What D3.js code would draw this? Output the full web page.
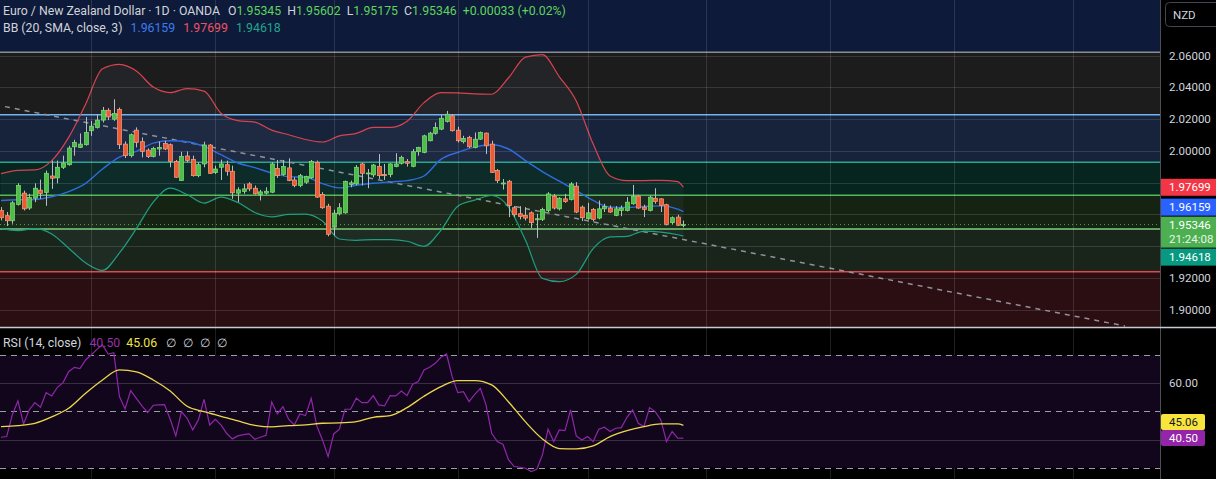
<!DOCTYPE html>
<html>
<head>
<meta charset="utf-8">
<script src="https://cdn.jsdelivr.net/npm/d3@7"></script>
<style>
  html, body { margin: 0; padding: 0; background: #000; overflow: hidden; }
  svg text { font-family: Roboto, "Noto Sans", sans-serif; }
</style>
</head>
<body>
<div id="chart"></div>
<script>
// daily EUR/NZD candles, oldest first
var opens = [1.9624,1.9591,1.9559,1.9662,1.9733,1.9639,1.9701,1.9752,1.9737,1.9841,
  1.9829,1.9896,1.9912,2.0025,2.0021,2.0038,2.0126,2.0147,2.0193,2.0255,
  2.0199,2.0261,2.0042,1.9969,2.0130,2.0057,2.0004,1.9963,2.0011,2.0046,
  2.0038,1.9933,1.9812,1.9967,1.9946,1.9843,1.9917,2.0036,1.9862,1.9896,
  1.9912,1.9871,1.9733,1.9743,1.9791,1.9764,1.9724,1.9733,1.9739,1.9889,
  1.9850,1.9892,1.9816,1.9781,1.9802,1.9829,1.9927,1.9724,1.9651,1.9519,
  1.9603,1.9609,1.9787,1.9791,1.9917,1.9854,1.9848,1.9900,1.9850,1.9850,
  1.9900,1.9921,1.9931,1.9902,1.9994,1.9990,2.0063,2.0109,2.0136,2.0184,
  2.0220,2.0130,2.0057,2.0084,2.0021,2.0073,2.0111,2.0042,1.9875,1.9791,
  1.9808,1.9641,1.9603,1.9593,1.9609,1.9565,1.9568,1.9624,1.9714,1.9634,
  1.9697,1.9693,1.9777,1.9645,1.9572,1.9630,1.9576,1.9634,1.9639,1.9593,
  1.9624,1.9624,1.9666,1.9714,1.9645,1.9624,1.9701,1.9697,1.9660,1.9547,
  1.9582,1.95345];
var highs = [1.9645,1.9614,1.9683,1.9795,1.9749,1.9729,1.9795,1.9818,1.9875,1.9938,
  1.9938,1.9969,2.0032,2.0069,2.0109,2.0213,2.0188,2.0230,2.0276,2.0268,
  2.0324,2.0272,2.0059,2.0109,2.0147,2.0084,2.0015,2.0025,2.0059,2.0063,
  2.0046,1.9942,1.9994,1.9996,1.9969,1.9927,2.0057,2.0042,1.9906,1.9944,
  1.9938,1.9906,1.9770,1.9791,1.9802,1.9781,1.9754,1.9770,1.9927,1.9942,
  1.9942,1.9952,1.9833,1.9854,1.9843,1.9942,1.9938,1.9739,1.9666,1.9628,
  1.9670,1.9812,1.9812,1.9910,1.9923,1.9885,1.9917,1.9979,1.9917,1.9921,
  1.9984,1.9969,1.9948,2.0011,2.0025,2.0101,2.0119,2.0178,2.0226,2.0251,
  2.0230,2.0151,2.0094,2.0094,2.0115,2.0121,2.0115,2.0063,1.9885,1.9822,
  1.9816,1.9651,1.9651,1.9645,1.9618,1.9603,1.9641,1.9739,1.9728,1.9708,
  1.9728,1.9802,1.9802,1.9655,1.9672,1.9639,1.9687,1.9666,1.9655,1.9651,
  1.9655,1.9708,1.9785,1.9722,1.9660,1.9718,1.9764,1.9701,1.9666,1.9586,
  1.9597,1.95602];
var lows = [1.9561,1.9526,1.9540,1.9655,1.9624,1.9628,1.9676,1.9697,1.9653,1.9760,
  1.9795,1.9885,1.9906,1.9969,2.0017,2.0032,2.0094,2.0140,2.0178,2.0193,
  2.0188,2.0011,1.9954,1.9958,2.0021,1.9958,1.9954,1.9958,1.9969,2.0004,
  1.9896,1.9829,1.9812,1.9927,1.9837,1.9833,1.9896,1.9854,1.9854,1.9816,
  1.9843,1.9697,1.9676,1.9729,1.9745,1.9724,1.9687,1.9724,1.9733,1.9829,
  1.9843,1.9808,1.9770,1.9770,1.9791,1.9823,1.9703,1.9634,1.9461,1.9467,
  1.9593,1.9603,1.9770,1.9783,1.9781,1.9764,1.9833,1.9823,1.9816,1.9833,
  1.9896,1.9913,1.9900,1.9896,1.9969,1.9984,2.0059,2.0101,2.0130,2.0178,
  2.0121,2.0052,2.0046,2.0017,2.0015,2.0068,1.9979,1.9860,1.9797,1.9756,
  1.9582,1.9582,1.9568,1.9561,1.9513,1.9451,1.9557,1.9614,1.9630,1.9624,
  1.9672,1.9687,1.9607,1.9557,1.9565,1.9555,1.9568,1.9614,1.9609,1.9588,
  1.9588,1.9618,1.9660,1.9634,1.9582,1.9618,1.9666,1.9614,1.9530,1.9534,
  1.9526,1.95175];
var closes = [1.9578,1.9559,1.9672,1.9781,1.9634,1.9706,1.9764,1.9731,1.9858,1.9827,
  1.9896,1.9923,2.0017,2.0052,2.0042,2.0115,2.0155,2.0193,2.0255,2.0213,
  2.0234,2.0038,1.9969,2.0101,2.0052,1.9996,1.9963,2.0015,2.0021,2.0011,
  1.9933,1.9833,1.9965,1.9938,1.9843,1.9912,2.0036,1.9858,1.9885,1.9917,
  1.9871,1.9735,1.9754,1.9760,1.9760,1.9729,1.9741,1.9745,1.9917,1.9843,
  1.9900,1.9812,1.9781,1.9843,1.9837,1.9933,1.9708,1.9641,1.9474,1.9607,
  1.9641,1.9806,1.9798,1.9896,1.9858,1.9860,1.9910,1.9843,1.9843,1.9917,
  1.9917,1.9958,1.9921,1.9994,2.0021,2.0094,2.0111,2.0146,2.0205,2.0230,
  2.0126,2.0063,2.0078,2.0025,2.0073,2.0115,2.0031,1.9864,1.9812,1.9797,
  1.9655,1.9597,1.9586,1.9576,1.9547,1.9572,1.9630,1.9728,1.9639,1.9701,
  1.9680,1.9791,1.9614,1.9578,1.9609,1.9568,1.9634,1.9649,1.9614,1.9634,
  1.9639,1.9676,1.9714,1.9639,1.9630,1.9708,1.9680,1.9655,1.9534,1.9578,
  1.9531,1.95346];

// Bollinger bands (20, SMA, 3) read every third bar
var bandBars = [0,3,6,9,12,15,18,21,24,27,30,33,36,39,42,45,48,51,54,57,60,
  63,66,69,72,75,78,81,84,87,90,93,96,99,102,105,108,111,114,117,120,121];
var bbUpper = [1.9856,1.9877,1.9879,1.9938,2.0084,2.0293,2.0516,2.0544,2.0502,2.0401,
  2.0366,2.0391,2.0376,2.0236,2.0190,2.0180,2.0130,2.0101,2.0071,2.0055,2.0094,
  2.0109,2.0147,2.0147,2.0186,2.0303,2.0366,2.0364,2.0358,2.0356,2.0460,
  2.0590,2.0606,2.0466,2.0314,2.0042,1.9841,1.9812,1.9812,1.9814,1.9806,1.97699];
var bbMiddle = [1.9687,1.9691,1.9693,1.9710,1.9743,1.9795,1.9885,1.9960,1.9996,2.0048,
  2.0063,2.0057,2.0027,1.9975,1.9923,1.9894,1.9860,1.9837,1.9833,1.9793,1.9766,
  1.9783,1.9795,1.9804,1.9812,1.9841,1.9946,1.9990,2.0023,2.0038,2.0011,
  1.9938,1.9869,1.9808,1.9749,1.9687,1.9645,1.9643,1.9649,1.9653,1.9632,1.96159];
var bbLower = [1.9509,1.9497,1.9509,1.9476,1.9386,1.9294,1.9246,1.9356,1.9509,1.9676,
  1.9764,1.9724,1.9670,1.9708,1.9674,1.9611,1.9584,1.9599,1.9601,1.9557,1.9444,
  1.9436,1.9440,1.9440,1.9430,1.9398,1.9499,1.9651,1.9689,1.9718,1.9645,
  1.9436,1.9196,1.9175,1.9221,1.9384,1.9457,1.9461,1.9494,1.9488,1.9471,1.94618];

// RSI 14 per bar and its moving average (every third bar)
var rsiValues = [40.81,41.05,48.73,53.69,45.54,50.50,53.10,51.45,56.65,55.47,
  58.54,60.19,64.09,65.63,65.16,68.23,70.00,72.01,73.55,70.36,
  70.83,55.23,50.86,57.36,54.64,51.92,49.56,52.16,52.28,52.39,
  47.19,41.28,49.91,47.55,43.41,46.96,54.28,45.18,47.19,45.18,
  42.23,40.22,41.28,41.76,41.99,40.10,40.81,41.52,53.34,49.08,
  51.68,47.19,45.18,49.08,48.49,54.64,44.83,39.86,33.95,41.99,
  43.65,50.74,50.74,54.64,53.10,53.10,55.58,52.28,51.92,55.58,
  55.47,57.24,55.58,59.60,60.55,64.69,65.63,67.05,69.18,70.36,
  62.32,56.65,57.00,53.46,56.06,58.19,52.28,42.23,39.27,38.33,
  32.77,30.41,30.17,29.82,28.63,29.46,34.55,43.65,39.27,43.41,
  43.17,50.50,41.28,39.86,41.05,39.27,43.65,44.36,42.82,44.00,
  44.24,47.90,50.50,45.77,44.59,51.33,49.91,46.96,39.27,42.82,
  40.45,40.50];
var rsiMa = [44.59,44.95,45.77,48.02,51.09,56.41,61.14,64.69,63.98,61.14,
  57.24,51.80,49.91,48.26,46.60,45.06,44.47,44.95,45.18,45.77,45.89,
  46.37,47.90,48.49,51.33,55.35,58.78,60.90,60.90,59.37,53.34,
  46.25,40.22,36.79,36.67,37.74,41.05,43.17,44.59,45.54,45.54,45.06];

var priceGrid = [2.06, 2.04, 2.02, 2.00, 1.98, 1.96, 1.94, 1.92, 1.90];
var priceLabels = [2.06, 2.04, 2.02, 2.00, 1.92, 1.90];
var rsiGridLevels = [60, 40];
var rsiBandLevels = [70, 50, 30];
var rsiTickLabels = [60];
var monthBars = [16, 38, 59, 81, 104, 125, 147, 169, 190];
var fibLevels = [2.0620, 2.0227, 1.9927, 1.9719, 1.9507, 1.9238];
var trendBars = [0.7, 199.3];
var trendPrices = [2.0278, 1.8896];
var lastPrice = 1.95346;
var countdown = "21:24:08";

var W = 1216, H = 479, axisX = 1160, paneBottom = 327;
var fibLineColors = ["#8a8d96", "#6fb3f2", "#2aa58f", "#56b65a", "#7fcf7c", "#e0484f"];
var zoneColors = ["#0d1a39", "#1c1c1d", "#17233a", "#06251f", "#152313", "#19251a", "#2b0e12"];

var svg = d3.select("#chart").append("svg").attr("width", W).attr("height", H)
  .style("display", "block").style("background", "#000");

var x = d3.scaleLinear().domain([0, 121]).range([1, 683.4]);
var y = d3.scaleLinear().domain([1.90, 2.06]).range([309.5, 55.5]);
var yr = d3.scaleLinear().domain([30, 70]).range([467.7, 355]);

svg.append("clipPath").attr("id", "pane").append("rect")
  .attr("x", 0).attr("y", 0).attr("width", axisX).attr("height", paneBottom);
var pane = svg.append("g").attr("clip-path", "url(#pane)");

// coloured zones between the levels
var edges = [null].concat(fibLevels).concat([null]);
for (var z = 0; z < edges.length - 1; z++) {
  var zoneTop = edges[z] === null ? 0 : y(edges[z]);
  var zoneBot = edges[z + 1] === null ? paneBottom : y(edges[z + 1]);
  pane.append("rect").attr("x", 0).attr("y", zoneTop).attr("width", axisX)
    .attr("height", zoneBot - zoneTop).attr("fill", zoneColors[z]);
}

// band fill
var bandPts = bandBars.map(function (b, i) { return { b: b, u: bbUpper[i], m: bbMiddle[i], l: bbLower[i] }; });
pane.append("path").datum(bandPts)
  .attr("d", d3.area().curve(d3.curveMonotoneX)
    .x(function (d) { return x(d.b); }).y0(function (d) { return y(d.l); }).y1(function (d) { return y(d.u); }))
  .attr("fill", "rgba(140,170,210,0.06)");

// grid
pane.selectAll(".hgrid").data(priceGrid).enter().append("line")
  .attr("x1", 0).attr("x2", axisX)
  .attr("y1", function (d) { return Math.round(y(d)) + 0.5; })
  .attr("y2", function (d) { return Math.round(y(d)) + 0.5; })
  .attr("stroke", "rgba(255,255,255,0.12)");
svg.selectAll(".vgrid").data(monthBars).enter().append("line")
  .attr("x1", function (d) { return Math.round(x(d)) + 0.5; })
  .attr("x2", function (d) { return Math.round(x(d)) + 0.5; })
  .attr("y1", 0).attr("y2", H)
  .attr("stroke", "rgba(255,255,255,0.12)");

// fib level lines
pane.selectAll(".fib").data(fibLevels).enter().append("line")
  .attr("x1", 0).attr("x2", axisX)
  .attr("y1", function (d) { return y(d); }).attr("y2", function (d) { return y(d); })
  .attr("stroke", function (d, i) { return fibLineColors[i]; })
  .attr("stroke-width", 1.5);

// trend line
pane.append("line")
  .attr("x1", x(trendBars[0])).attr("y1", y(trendPrices[0]))
  .attr("x2", x(trendBars[1])).attr("y2", y(trendPrices[1]))
  .attr("stroke", "#8f929b").attr("stroke-width", 1.5).attr("stroke-dasharray", "5,5");

// bands
var bandLine = function (key) {
  return d3.line().curve(d3.curveMonotoneX)
    .x(function (d) { return x(d.b); }).y(function (d) { return y(d[key]); });
};
pane.append("path").datum(bandPts).attr("d", bandLine("u")).attr("fill", "none").attr("stroke", "#d8434f").attr("stroke-width", 1.2);
pane.append("path").datum(bandPts).attr("d", bandLine("m")).attr("fill", "none").attr("stroke", "#2f6be0").attr("stroke-width", 1.4);
pane.append("path").datum(bandPts).attr("d", bandLine("l")).attr("fill", "none").attr("stroke", "#1f9e82").attr("stroke-width", 1.2);

// candles
var candles = opens.map(function (o, i) { return { i: i, o: o, h: highs[i], l: lows[i], c: closes[i] }; });
var cg = pane.selectAll(".candle").data(candles).enter().append("g");
cg.append("line")
  .attr("x1", function (d) { return Math.round(x(d.i)) + 0.5; })
  .attr("x2", function (d) { return Math.round(x(d.i)) + 0.5; })
  .attr("y1", function (d) { return y(d.h); }).attr("y2", function (d) { return y(d.l); })
  .attr("stroke", "#b9bcc4");
cg.append("rect")
  .attr("x", function (d) { return Math.round(x(d.i)) - 1.5; })
  .attr("width", 4)
  .attr("y", function (d) { return y(Math.max(d.o, d.c)); })
  .attr("height", function (d) { return Math.max(1, Math.abs(y(d.o) - y(d.c))); })
  .attr("fill", function (d) { return d.c >= d.o ? "#4cbf48" : "#f05a32"; })
  .attr("stroke", function (d) { return d.c >= d.o ? "#86dd78" : "#f7a283"; })
  .attr("stroke-width", 0.7);

// last price line
pane.append("line").attr("x1", 0).attr("x2", axisX)
  .attr("y1", y(lastPrice)).attr("y2", y(lastPrice))
  .attr("stroke", "#4caf50").attr("stroke-dasharray", "1,3");

// RSI pane
svg.append("rect").attr("x", 0).attr("width", axisX)
  .attr("y", yr(70)).attr("height", yr(30) - yr(70)).attr("fill", "#12061d");
svg.selectAll(".rgrid").data(rsiGridLevels).enter().append("line")
  .attr("x1", 0).attr("x2", axisX)
  .attr("y1", function (d) { return Math.round(yr(d)) + 0.5; })
  .attr("y2", function (d) { return Math.round(yr(d)) + 0.5; })
  .attr("stroke", "rgba(255,255,255,0.16)");
svg.selectAll(".rband").data(rsiBandLevels).enter().append("line")
  .attr("x1", 0).attr("x2", axisX)
  .attr("y1", function (d) { return Math.round(yr(d)) + 0.5; })
  .attr("y2", function (d) { return Math.round(yr(d)) + 0.5; })
  .attr("stroke", "#9a9ca6").attr("stroke-dasharray", "6,5");
svg.append("path").datum(rsiValues)
  .attr("d", d3.line().x(function (d, i) { return x(i); }).y(function (d) { return yr(d); }))
  .attr("fill", "none").attr("stroke", "#9027aa").attr("stroke-width", 1.2);
svg.append("path").datum(bandBars.map(function (b, i) { return [b, rsiMa[i]]; }))
  .attr("d", d3.line().curve(d3.curveMonotoneX).x(function (d) { return x(d[0]); }).y(function (d) { return yr(d[1]); }))
  .attr("fill", "none").attr("stroke", "#ecd84a").attr("stroke-width", 1.3);

// right axis
svg.append("rect").attr("x", axisX).attr("y", 0).attr("width", W - axisX).attr("height", H).attr("fill", "#000");
svg.append("line").attr("x1", axisX + 0.5).attr("x2", axisX + 0.5).attr("y1", 0).attr("y2", H).attr("stroke", "#4a4d56");
svg.append("line").attr("x1", 0).attr("x2", W).attr("y1", paneBottom + 0.5).attr("y2", paneBottom + 0.5)
  .attr("stroke", "#c8cad0").attr("stroke-width", 1.5);

var styleAxis = function (g) {
  g.select(".domain").remove();
  g.selectAll("text").attr("fill", "#d1d4dc").attr("font-size", "11.5px")
    .attr("font-family", "Roboto, 'Noto Sans', sans-serif");
};
svg.append("g").attr("transform", "translate(" + axisX + ",0)")
  .call(d3.axisRight(y).tickValues(priceLabels).tickFormat(d3.format(".5f")).tickSize(0).tickPadding(9))
  .call(styleAxis);
svg.append("g").attr("transform", "translate(" + axisX + ",0)")
  .call(d3.axisRight(yr).tickValues(rsiTickLabels).tickFormat(d3.format(".2f")).tickSize(0).tickPadding(9))
  .call(styleAxis);

// price tags
var tagH = 17;
var lastTop = y(lastPrice) - 8, lastBot = lastTop + 31;
var tags = [
  { v: bbUpper[bbUpper.length - 1], fill: "#f23645", top: y(bbUpper[bbUpper.length - 1]) - tagH / 2 },
  { v: bbMiddle[bbMiddle.length - 1], fill: "#2962ff", top: Math.min(y(bbMiddle[bbMiddle.length - 1]) - tagH / 2, lastTop - tagH - 1) },
  { v: bbLower[bbLower.length - 1], fill: "#089981", top: Math.max(y(bbLower[bbLower.length - 1]) - tagH / 2, lastBot + 1) }
];
tags.forEach(function (t) {
  svg.append("rect").attr("x", axisX + 1).attr("y", t.top).attr("width", W - axisX).attr("height", tagH).attr("fill", t.fill);
  svg.append("text").attr("x", axisX + 9).attr("y", t.top + tagH / 2).attr("dy", "0.35em")
    .attr("fill", "#fff").attr("font-size", "11.5px").text(d3.format(".5f")(t.v));
});
svg.append("rect").attr("x", axisX + 1).attr("y", lastTop).attr("width", W - axisX).attr("height", lastBot - lastTop).attr("fill", "#4caf50");
svg.append("text").attr("x", axisX + 9).attr("y", lastTop + 8).attr("dy", "0.35em")
  .attr("fill", "#fff").attr("font-size", "11.5px").text(d3.format(".5f")(lastPrice));
svg.append("text").attr("x", axisX + 9).attr("y", lastTop + 22).attr("dy", "0.35em")
  .attr("fill", "#eaf5ea").attr("font-size", "11.5px").text(countdown);

// RSI tags
var rsiLast = rsiValues[rsiValues.length - 1], maLast = rsiMa[rsiMa.length - 1];
var purpleTop = yr(rsiLast) - 8, yellowTop = Math.min(yr(maLast) - 8, purpleTop - 16);
svg.append("rect").attr("x", axisX + 1).attr("y", yellowTop).attr("width", 44).attr("height", 16).attr("rx", 2).attr("fill", "#f7e53b");
svg.append("text").attr("x", axisX + 9).attr("y", yellowTop + 8).attr("dy", "0.35em").attr("fill", "#131722").attr("font-size", "11.5px").text(d3.format(".2f")(maLast));
svg.append("rect").attr("x", axisX + 1).attr("y", purpleTop).attr("width", 44).attr("height", 16).attr("rx", 2).attr("fill", "#9424a8");
svg.append("text").attr("x", axisX + 9).attr("y", purpleTop + 8).attr("dy", "0.35em").attr("fill", "#fff").attr("font-size", "11.5px").text(d3.format(".2f")(rsiLast));

// currency button
svg.append("rect").attr("x", 1165.5).attr("y", 2.5).attr("width", 56).attr("height", 24).attr("rx", 4)
  .attr("fill", "#000").attr("stroke", "#434651");
svg.append("text").attr("x", 1173).attr("y", 15).attr("dy", "0.35em").attr("fill", "#d1d4dc").attr("font-size", "11.5px").text("NZD");

// legends
var fmt5 = d3.format(".5f");
var l1 = svg.append("text").attr("x", 3).attr("y", 11).attr("dy", "0.35em").attr("font-size", "12.3px").attr("fill", "#d1d4dc");
l1.append("tspan").text("Euro / New Zealand Dollar · 1D · OANDA");
[["O", opens], ["H", highs], ["L", lows], ["C", closes]].forEach(function (p, k) {
  l1.append("tspan").attr("dx", k === 0 ? 8 : 6).text(p[0]);
  l1.append("tspan").attr("fill", "#5fd35f").text(fmt5(p[1][p[1].length - 1]));
});
l1.append("tspan").attr("dx", 6).attr("fill", "#5fd35f").text("+0.00033 (+0.02%)");

var l2 = svg.append("text").attr("x", 3).attr("y", 28).attr("dy", "0.35em").attr("font-size", "12.3px").attr("fill", "#d1d4dc");
l2.append("tspan").text("BB (20, SMA, close, 3)");
l2.append("tspan").attr("dx", 8).attr("fill", "#3d7bf2").text(fmt5(bbMiddle[bbMiddle.length - 1]));
l2.append("tspan").attr("dx", 8).attr("fill", "#ef5361").text(fmt5(bbUpper[bbUpper.length - 1]));
l2.append("tspan").attr("dx", 8).attr("fill", "#22a68e").text(fmt5(bbLower[bbLower.length - 1]));

var l3 = svg.append("text").attr("x", 3).attr("y", 343).attr("dy", "0.35em").attr("font-size", "12.3px").attr("fill", "#d1d4dc");
l3.append("tspan").text("RSI (14, close)");
l3.append("tspan").attr("dx", 8).attr("fill", "#9a2fae").text(d3.format(".2f")(rsiLast));
l3.append("tspan").attr("dx", 6).attr("fill", "#f2e04a").text(d3.format(".2f")(maLast));
["∅", "∅", "∅", "∅"].forEach(function (s, k) {
  l3.append("tspan").attr("dx", k === 0 ? 9 : 7).text(s);
});
</script>
</body>
</html>
